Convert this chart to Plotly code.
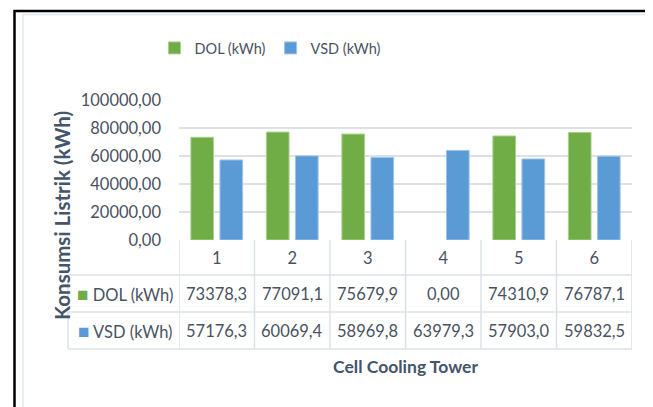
import plotly.graph_objects as go

# ---- data ----
categories = ["1", "2", "3", "4", "5", "6"]
series_names = ["DOL (kWh)", "VSD (kWh)"]
dol_values = [73378.3, 77091.1, 75679.9, 0.0, 74310.9, 76787.1]
vsd_values = [57176.3, 60069.4, 58969.8, 63979.3, 57903.0, 59832.5]
y_tick_values = [0, 20000, 40000, 60000, 80000, 100000]
x_title = "Cell Cooling Tower"
y_title = "Konsumsi Listrik (kWh)"

# ---- layout geometry (pixels, page body has an 8px offset) ----
OFF = 8
W, H = 653 - OFF, 407 - OFF
PL, PR, PT, PB = 179, 632, 100, 240          # plot area in page pixels
ML, MR, MT, MB = PL - OFF, W - (PR - OFF), PT - OFF, H - (PB - OFF)
PW, PH = W - ML - MR, H - MT - MB


def fx(px):
    return (px - OFF - ML) / PW


def fy(py):
    return (H - MB - (py - OFF)) / PH


FONT = "Lato, 'Open Sans', sans-serif"
TXT = "#4a5262"
TITLE = "#44546A"
LINE = "#dde1e6"
GREEN = "#70AD47"
BLUE = "#5B9BD5"


def fmt(v):
    return "0,00" if v == 0 else f"{v:.1f}".replace(".", ",")


fig = go.Figure()
fig.add_trace(go.Bar(x=categories, y=dol_values, name=series_names[0],
                     marker=dict(color=GREEN,
                                 line=dict(color="#a9d18e",
                                           width=[0 if v == 0 else 1 for v in dol_values]))))
fig.add_trace(go.Bar(x=categories, y=vsd_values, name=series_names[1],
                     marker=dict(color=BLUE,
                                 line=dict(color="#9dc3e6",
                                           width=[0 if v == 0 else 1 for v in vsd_values]))))

shapes = []
# outer frame
shapes.append(dict(type="rect", xref="paper", yref="paper",
                   x0=fx(14.5), x1=fx(700), y0=fy(11), y1=fy(450),
                   line=dict(color="black", width=2.5), layer="below"))
shapes.append(dict(type="rect", xref="paper", yref="paper",
                   x0=fx(23), x1=fx(700), y0=fy(14.5), y1=fy(450),
                   line=dict(color="#e4e7eb", width=1.5), layer="below"))

# data table lines
row_lines = [275, 312, 349]
for py in row_lines:
    shapes.append(dict(type="line", xref="paper", yref="paper",
                       x0=fx(68), x1=1, y0=fy(py), y1=fy(py),
                       line=dict(color=LINE, width=1.5)))
shapes.append(dict(type="line", xref="paper", yref="paper",
                   x0=fx(68), x1=fx(68), y0=fy(275), y1=fy(349),
                   line=dict(color=LINE, width=1.5)))
for i in range(len(categories) + 1):
    shapes.append(dict(type="line", xref="x", yref="paper",
                       x0=i - 0.5, x1=i - 0.5, y0=0, y1=fy(349),
                       line=dict(color=LINE, width=1.5)))

annotations = []
rows = [(series_names[0], dol_values, GREEN, 293.5),
        (series_names[1], vsd_values, BLUE, 330.5)]
for name, vals, col, py in rows:
    annotations.append(dict(
        xref="paper", yref="paper", x=fx(175), y=fy(py),
        xanchor="right", yanchor="middle", showarrow=False,
        text=f"<span style='color:{col};font-size:19px'>■</span> {name}",
        font=dict(family=FONT, size=16.5, color=TXT)))
    for i, v in enumerate(vals):
        annotations.append(dict(
            xref="x", yref="paper", x=i, y=fy(py),
            xanchor="center", yanchor="middle", showarrow=False,
            text=fmt(v), font=dict(family=FONT, size=16.5, color=TXT)))

annotations.append(dict(
    xref="paper", yref="paper", x=fx(62), y=fy(216),
    xanchor="center", yanchor="middle", showarrow=False, textangle=-90,
    text=f"<b>{y_title}</b>", font=dict(family=FONT, size=20.5, color=TITLE)))

fig.update_layout(
    width=W, height=H,
    margin=dict(l=ML, r=MR, t=MT, b=MB),
    paper_bgcolor="white", plot_bgcolor="white",
    separators=",.",
    barmode="group", bargap=0.23, bargroupgap=0.22,
    font=dict(family=FONT, size=16.5, color=TXT),
    showlegend=True,
    legend=dict(orientation="h", xref="container", yref="container",
                x=(270 - OFF) / W, y=1 - (48 - OFF) / H,
                xanchor="center", yanchor="middle",
                font=dict(family=FONT, size=14.5, color=TXT),
                itemwidth=30, bgcolor="rgba(0,0,0,0)"),
    shapes=shapes,
    annotations=annotations,
    xaxis=dict(type="category", range=[-0.5, len(categories) - 0.5],
               showgrid=False, showline=False, zeroline=False,
               ticks="", ticklabelstandoff=6,
               tickfont=dict(family=FONT, size=16.5, color=TXT),
               title=dict(text=f"<b>{x_title}</b>", standoff=94,
                          font=dict(family=FONT, size=17.5, color=TITLE))),
    yaxis=dict(range=[0, 100000], tickvals=y_tick_values, tickformat=".2f",
               showgrid=True, gridcolor=LINE, gridwidth=1.5,
               zeroline=False, showline=False, ticks="",
               ticklabelstandoff=17,
               tickfont=dict(family=FONT, size=16.5, color=TXT)),
)

fig.write_html("out.html")
